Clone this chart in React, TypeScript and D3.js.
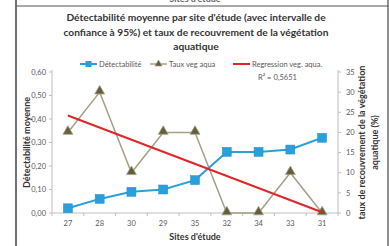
import React from "react";
import * as d3 from "d3";

const sites = ["27", "28", "30", "29", "35", "32", "34", "33", "31"];
const detectabilite = [0.02, 0.06, 0.09, 0.1, 0.14, 0.26, 0.26, 0.27, 0.32];
const tauxVeg = [20, 30, 10, 20, 20, 0, 0, 10, 0];
const regressionSites = ["27", "31"];
const regressionValues = [24.2, 0.2];
const leftTicks = [0, 0.1, 0.2, 0.3, 0.4, 0.5, 0.6];
const rightTicks = [0, 5, 10, 15, 20, 25, 30, 35];
const titleLines = [
  "Détectabilité moyenne par site d'étude (avec intervalle de",
  "confiance à 95%) et taux de recouvrement de la végétation",
  "aquatique",
];
const legendLabels = ["Détectabilité", "Taux veg aqua", "Regression veg. aqua."];
const r2Label = "R² = 0,5651";

const W = 389;
const H = 246;
const FONT = "Lato, 'Open Sans', sans-serif";
const BLUE = "#2a9fdc";
const OLIVE_LINE = "#a59f86";
const OLIVE_FILL = "#625f3a";
const RED = "#e1262b";
const GRAY = "#595959";
const AXIS = "#bfbfbf";

export default function App() {
  const x = d3.scaleBand<string>().domain(sites).range([52, 338]);
  const cx = (s: string) => (x(s) as number) + x.bandwidth() / 2;
  const yL = d3.scaleLinear().domain([0, 0.6]).range([213, 72]);
  const yR = d3.scaleLinear().domain([0, 35]).range([213, 72]);

  const detLine = d3
    .line<number>()
    .x((_, i) => cx(sites[i]))
    .y((d) => yL(d));
  const vegLine = d3
    .line<number>()
    .x((_, i) => cx(sites[i]))
    .y((d) => yR(d));
  const regLine = d3
    .line<number>()
    .x((_, i) => cx(regressionSites[i]))
    .y((d) => yR(d));

  const tri = d3.symbol().type(d3.symbolTriangle).size(42)();
  const triSmall = d3.symbol().type(d3.symbolTriangle).size(22)();

  return (
    <svg
      width={W}
      height={H}
      style={{ position: "absolute", left: 0, top: 0, background: "#fff" }}
      fontFamily={FONT}
    >
      <rect x={0} y={0} width={W} height={H} fill="#fff" />
      {/* previous chart remnant */}
      <text x={195} y={2} textAnchor="middle" fontSize={9} fontWeight="bold" fill="#666">
        Sites d'étude
      </text>
      {/* frame */}
      <line x1={16} y1={0} x2={16} y2={H} stroke="#444" strokeWidth={1.5} />
      <line x1={16} y1={6} x2={388} y2={6} stroke="#555" strokeWidth={1.2} />
      <line x1={388} y1={0} x2={388} y2={H} stroke="#444" strokeWidth={1.2} />

      {/* title */}
      {titleLines.map((t, i) => (
        <text
          key={i}
          x={196}
          y={21 + i * 14.5}
          textAnchor="middle"
          fontSize={10.2}
          fontWeight="bold"
          fill="#333"
        >
          {t}
        </text>
      ))}

      {/* legend */}
      <g fontSize={7.5} fill={GRAY}>
        <line x1={80} y1={64} x2={97} y2={64} stroke={BLUE} strokeWidth={2} />
        <rect x={85.5} y={61} width={6} height={6} fill={BLUE} />
        <text x={99} y={66.5}>{legendLabels[0]}</text>
        <line x1={150} y1={64} x2={167} y2={64} stroke={OLIVE_LINE} strokeWidth={1.5} />
        <path d={triSmall} transform="translate(158.5,64)" fill={OLIVE_FILL} stroke={OLIVE_LINE} strokeWidth={0.6} />
        <text x={169} y={66.5}>{legendLabels[1]}</text>
        <line x1={233} y1={64} x2={250} y2={64} stroke={RED} strokeWidth={2} />
        <text x={252} y={66.5}>{legendLabels[2]}</text>
        <text x={258} y={80}>{r2Label}</text>
      </g>

      {/* axes */}
      <line x1={52} y1={70} x2={52} y2={213} stroke={AXIS} />
      <line x1={338} y1={70} x2={338} y2={213} stroke={AXIS} />
      <line x1={52} y1={213} x2={338} y2={213} stroke={AXIS} />
      {leftTicks.map((t) => (
        <g key={"l" + t}>
          <line x1={49} x2={52} y1={yL(t)} y2={yL(t)} stroke={AXIS} />
          <text x={46} y={yL(t) + 2.7} textAnchor="end" fontSize={7.5} fill={GRAY}>
            {d3.format(".2f")(t).replace(".", ",")}
          </text>
        </g>
      ))}
      {rightTicks.map((t) => (
        <g key={"r" + t}>
          <line x1={338} x2={341} y1={yR(t)} y2={yR(t)} stroke={AXIS} />
          <text x={346} y={yR(t) + 2.7} textAnchor="start" fontSize={7.5} fill={GRAY}>
            {t}
          </text>
        </g>
      ))}
      {sites.map((s, i) => (
        <g key={"x" + s}>
          <line x1={52 + i * x.bandwidth()} x2={52 + i * x.bandwidth()} y1={213} y2={216} stroke={AXIS} />
          <text x={cx(s)} y={226} textAnchor="middle" fontSize={7.5} fill={GRAY}>
            {s}
          </text>
        </g>
      ))}
      <line x1={338} x2={338} y1={213} y2={216} stroke={AXIS} />

      {/* axis titles */}
      <text x={195} y={240} textAnchor="middle" fontSize={9} fontWeight="bold" fill="#333">
        Sites d'étude
      </text>
      <text
        transform={`translate(30,${yL(0.3)}) rotate(-90)`}
        textAnchor="middle"
        fontSize={9}
        fontWeight="bold"
        fill="#333"
      >
        Détectabilité moyenne
      </text>
      <text
        transform={`translate(365,${yR(17.5)}) rotate(-90)`}
        textAnchor="middle"
        fontSize={9}
        fontWeight="bold"
        fill="#333"
      >
        taux de recouvrement de la végétation
      </text>
      <text
        transform={`translate(378,${yR(17.5)}) rotate(-90)`}
        textAnchor="middle"
        fontSize={9}
        fontWeight="bold"
        fill="#333"
      >
        aquatique (%)
      </text>

      {/* series */}
      <path d={vegLine(tauxVeg) || ""} fill="none" stroke={OLIVE_LINE} strokeWidth={1.5} />
      <path d={detLine(detectabilite) || ""} fill="none" stroke={BLUE} strokeWidth={2} />
      {tauxVeg.map((v, i) => (
        <path
          key={"t" + i}
          d={tri}
          transform={`translate(${cx(sites[i])},${yR(v) - 1})`}
          fill={OLIVE_FILL}
          stroke={OLIVE_LINE}
          strokeWidth={0.8}
        />
      ))}
      {detectabilite.map((v, i) => (
        <rect
          key={"d" + i}
          x={cx(sites[i]) - 4.5}
          y={yL(v) - 4.5}
          width={9}
          height={9}
          fill={BLUE}
          stroke="#2590cc"
          strokeWidth={0.5}
        />
      ))}
      <path d={regLine(regressionValues) || ""} fill="none" stroke={RED} strokeWidth={2} />
    </svg>
  );
}
